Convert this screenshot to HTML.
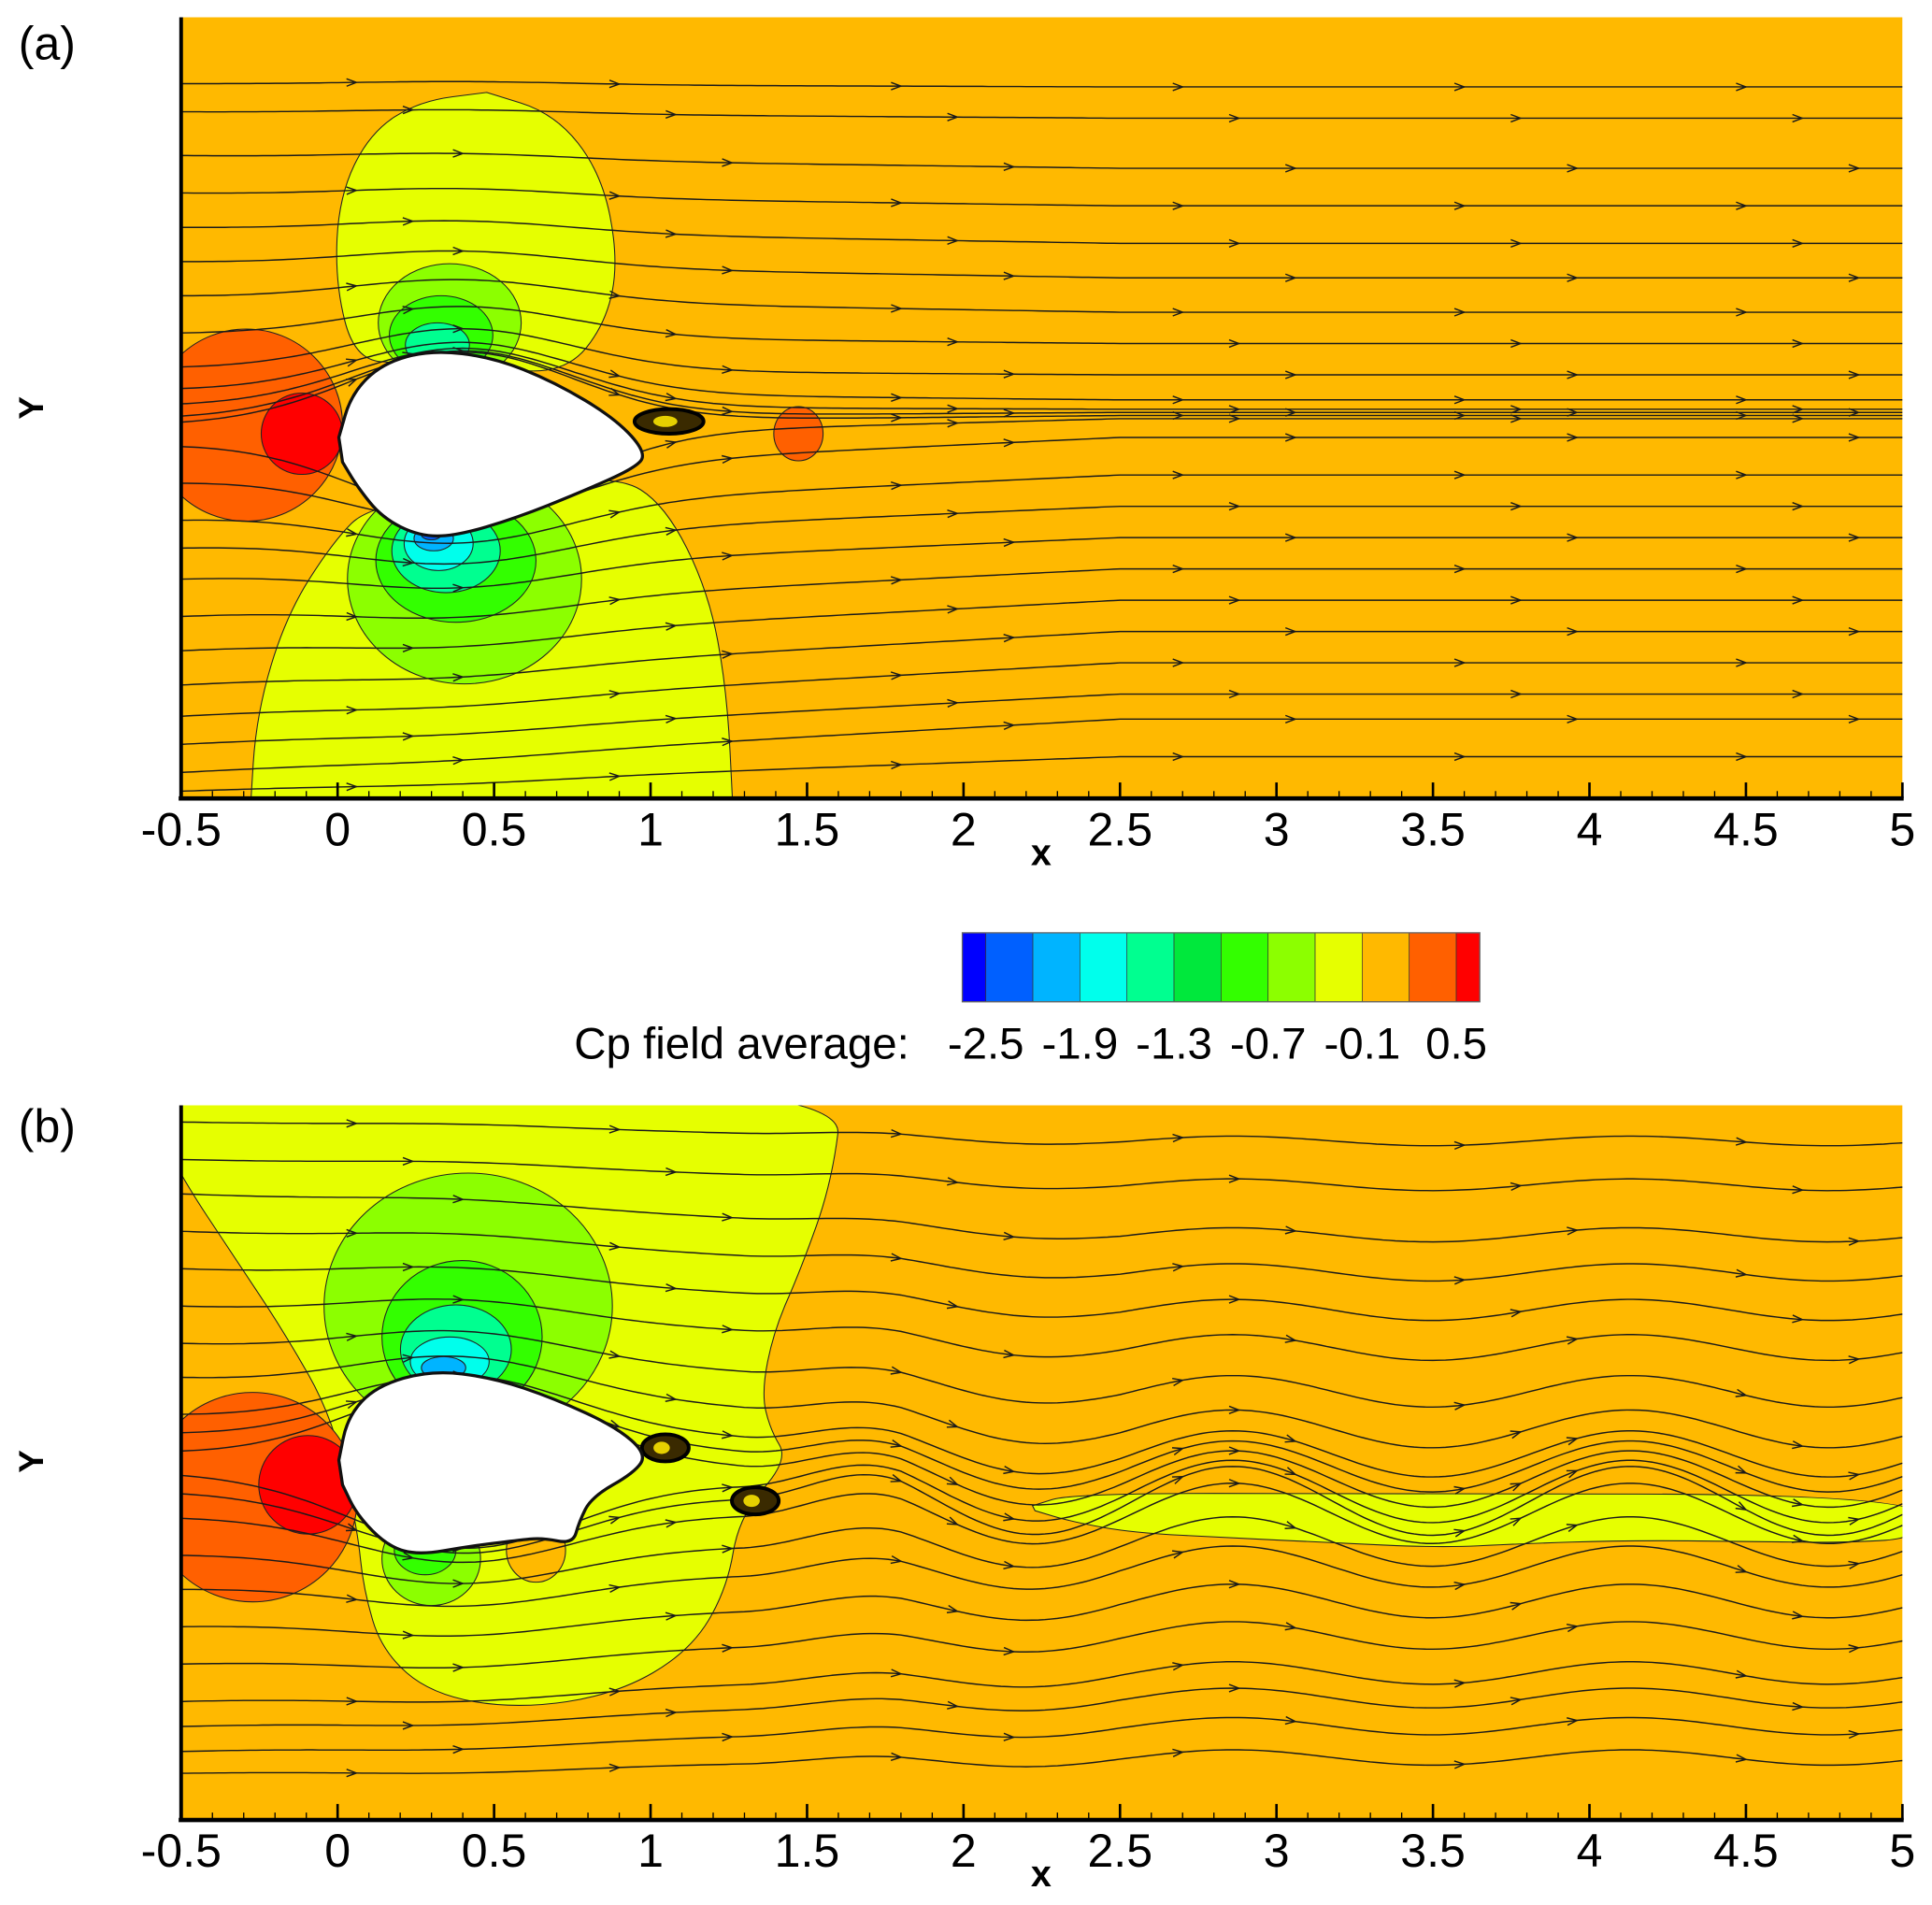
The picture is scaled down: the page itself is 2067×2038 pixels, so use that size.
<!DOCTYPE html>
<html><head><meta charset="utf-8"><style>
html,body{margin:0;padding:0;background:#fff;}
svg{display:block;}
text{font-family:"Liberation Sans",sans-serif;}
</style></head><body>
<svg id="fig" width="2067" height="2038" viewBox="0 0 1568 1546" xmlns="http://www.w3.org/2000/svg">
<defs>
<clipPath id="clipA"><rect x="147" y="14" width="1397" height="634"/></clipPath>
<clipPath id="clipB"><rect x="147" y="897" width="1397" height="580"/></clipPath>
</defs>
<g id="panelA"></g>
<g id="panelB"></g>
<g id="legend"></g>
</svg>
<script>
// ---- data ----
const xTicks = [-0.5,0,0.5,1,1.5,2,2.5,3,3.5,4,4.5,5];
const xTickLabels = ["-0.5","0","0.5","1","1.5","2","2.5","3","3.5","4","4.5","5"];
const cbColors = ["#0000ff","#0060ff","#00b4ff","#00ffec","#00ff90","#00e83c","#33ff00","#8cff00","#e6ff00","#ffb900","#ff6000","#ff0000"];
const cbLevels = [-2.8,-2.5,-2.2,-1.9,-1.6,-1.3,-1.0,-0.7,-0.4,-0.1,0.2,0.5,0.65];
const cbLabelValues = [-2.5,-1.9,-1.3,-0.7,-0.1,0.5];
const cbLabels = ["-2.5","-1.9","-1.3","-0.7","-0.1","0.5"];
// streamline start / end y (data units, relative to airfoil center)
const streamStartA = [1.13,1.04,0.90,0.78,0.67,0.56,0.45,0.33,0.22,0.15,0.10,0.06,0.04,-0.02,-0.14,-0.26,-0.35,-0.45,-0.57,-0.68,-0.79,-0.89,-0.98,-1.07,-1.13];
const streamEndA   = [1.12,1.02,0.86,0.74,0.62,0.51,0.40,0.30,0.20,0.12,0.09,0.08,0.07,0.06,0.00,-0.12,-0.22,-0.32,-0.42,-0.52,-0.62,-0.72,-0.82,-0.90,-1.02];
const streamStartB = [1.08,0.96,0.85,0.73,0.61,0.49,0.37,0.26,0.14,0.08,0.02,-0.04,-0.10,-0.18,-0.30,-0.41,-0.53,-0.65,-0.77,-0.85,-0.93,-1.00];
const streamEndB   = [1.02,0.88,0.72,0.60,0.48,0.36,0.22,0.10,0.02,-0.02,-0.06,-0.10,-0.13,-0.17,-0.26,-0.34,-0.45,-0.56,-0.68,-0.76,-0.85,-0.95];

const NS="http://www.w3.org/2000/svg";
const X0=147, UNIT=254;
function xS(x){return X0+(x+0.5)*UNIT;}
function mk(tag,attrs,parent){const e=document.createElementNS(NS,tag);for(const k in attrs)e.setAttribute(k,attrs[k]);parent.appendChild(e);return e;}
function smooth(pts){let d="M"+pts[0][0]+","+pts[0][1];for(let i=1;i<pts.length;i++){const p0=pts[i-1],p1=pts[i];const mx=(p0[0]+p1[0])/2,my=(p0[1]+p1[1])/2;d+=" Q"+p0[0]+","+p0[1]+" "+mx+","+my;}d+=" L"+pts[pts.length-1][0]+","+pts[pts.length-1][1]+" Z";return d;}

function drawPanel(g,top,bottom,yc,clip,label,isB){
  const yS=y=>yc-y*UNIT;
  const bg=mk('g',{'clip-path':'url(#'+clip+')'},g);
  let e=mk('rect',{x:147,y:top,width:1397,height:bottom-top,fill:'#ffb900'},bg);
  
  const st={stroke:'#222','stroke-width':0.8};
  function ell(cx,cy,rx,ry,c,name){const el=mk('ellipse',Object.assign({cx:cx,cy:cy,rx:rx,ry:ry,fill:c},st),bg);}
  function shp(d,c,name){const el=mk('path',Object.assign({d:d,fill:c},st),bg);}
  if(!isB){
    shp(smooth([[395,75],[450,92],[488,140],[502,210],[492,262],[460,302],[400,300],[330,295],[288,292],[272,230],[275,160],[300,108],[340,82],[395,75]]),'#e6ff00','upper-yellow-contour');
    shp(smooth([[203,660],[208,580],[232,500],[270,440],[300,410],[400,400],[500,385],[540,410],[575,480],[590,560],[595,660]]),'#e6ff00','lower-yellow-contour');
    ell(365,262,58,48,'#8cff00','upper-lightgreen-contour');
    ell(358,272,42,32,'#33ff00','upper-green-contour');
    ell(355,280,26,18,'#00ff90','upper-teal-contour');
    ell(377,470,95,85,'#8cff00','lower-lightgreen-contour');
    ell(370,455,65,50,'#33ff00','lower-green-contour');
    ell(362,447,44,34,'#00ff90','lower-teal-contour');
    ell(356,441,28,22,'#00ffec','lower-cyan-contour');
    ell(352,437,16,10,'#00b4ff','lower-lightblue-contour');
    ell(350,434,8,4,'#0060ff','lower-blue-contour');
    ell(200,345,78,78,'#ff6000','stagnation-contour');
    ell(245,352,33,33,'#ff0000','stagnation-peak-contour');
    ell(648,352,20,22,'#ff6000','wake-pressure-contour');
  } else {
    shp(smooth([[120,880],[685,880],[675,960],[650,1030],[628,1080],[618,1130],[625,1160],[640,1185],[600,1230],[590,1290],[560,1340],[500,1375],[420,1387],[350,1375],[310,1340],[295,1290],[290,1240],[270,1150],[230,1080],[190,1020],[147,955],[120,900]]),'#e6ff00','yellow-contour');
    shp(smooth([[838,1222],[870,1212],[1100,1212],[1560,1213],[1560,1248],[1500,1252],[1420,1251],[1320,1250],[1230,1253],[1170,1256],[1080,1252],[1000,1248],[920,1244],[870,1235],[840,1226]]),'#e6ff00','wake-yellow-contour');
    ell(435,1258,24,26,'#ffb900','lower-orange-contour');
    ell(380,1060,117,108,'#8cff00','upper-lightgreen-contour');
    ell(375,1085,65,62,'#33ff00','upper-green-contour');
    ell(370,1095,45,36,'#00ff90','upper-teal-contour');
    ell(365,1105,32,20,'#00ffec','upper-cyan-contour');
    ell(360,1110,18,9,'#00b4ff','upper-lightblue-contour');
    ell(350,1265,40,38,'#8cff00','lower-lightgreen-contour');
    ell(345,1258,25,20,'#33ff00','lower-green-contour');
    ell(205,1215,85,85,'#ff6000','stagnation-contour');
    ell(250,1205,40,40,'#ff0000','stagnation-peak-contour');
  }
  // streamlines
  const starts=isB?streamStartB:streamStartA, ends=isB?streamEndB:streamEndA;
  const sl=mk('g',{fill:'none',stroke:'#1a1a1a','stroke-width':1.1},bg);
  for(let i=0;i<starts.length;i++){
    const y0=starts[i],y1=ends[i];
    const pts=[];
    for(let x=-0.5;x<=5.01;x+=0.02){
      const s=Math.min(1,(x+0.5)/3);
      let y=y0+(y1-y0)*s;
      const sg=y0>=0.01?1:-1;
      y+=sg*0.25*Math.exp(-Math.pow((x-0.4)/0.5,2))*Math.exp(-Math.abs(y0)/0.35);
      if(isB&&x>1.3){
        const ramp=Math.min(1,(x-1.3)/0.5);
        y+=ramp*0.11*Math.cos(2*Math.PI*(x-2.86)/1.27)*Math.exp(-Math.abs(y0+0.1)/0.6);
      }
      pts.push([xS(x),yS(y)]);
    }
    const p=mk('path',{d:"M"+pts.map(q=>q[0].toFixed(1)+","+q[1].toFixed(1)).join(" L")},sl);
    
    
    const ax=[0.05,0.9,1.8,2.7,3.6,4.5].map(v=>v+(i%3)*0.18);
    ax.forEach(a=>{
      const k=Math.round((a+0.5)/0.02); if(k<1||k>=pts.length)return;
      const q=pts[k],r=pts[k-1];const ang=Math.atan2(q[1]-r[1],q[0]-r[0]);
      const L=8,W=3;
      const d="M"+(q[0]-L*Math.cos(ang)-W*Math.sin(ang))+","+(q[1]-L*Math.sin(ang)+W*Math.cos(ang))+" L"+q[0]+","+q[1]+" L"+(q[0]-L*Math.cos(ang)+W*Math.sin(ang))+","+(q[1]-L*Math.sin(ang)-W*Math.cos(ang));
      const ar=mk('path',{d:d},sl);
      
      
    });
  }
  // vortices
  const vx=isB?[[540,1175,19,11],[613,1218,19,11]]:[[543,342,28,10]];
  vx.forEach(v=>{const el=mk('ellipse',{cx:v[0],cy:v[1],rx:v[2],ry:v[3],fill:'#3a2a00',stroke:'#000','stroke-width':3},bg);
    const c=mk('ellipse',{cx:v[0]-3,cy:v[1],rx:v[2]*0.35,ry:v[3]*0.45,fill:'#e6d000'},bg);});
  // airfoil
  const af=isB?[[275,1185],[282,1150],[305,1125],[350,1112],[400,1118],[450,1135],[500,1158],[525,1180],[515,1195],[480,1215],[470,1235],[465,1253],[440,1248],[420,1250],[380,1255],[340,1262],[315,1255],[290,1230],[278,1205]]
    :[[275,355],[285,320],[310,295],[350,284],[400,290],[450,310],[500,340],[525,368],[515,380],[470,400],[420,420],[370,435],[340,435],[310,420],[290,395],[278,375]];
  const a=mk('path',{d:smooth(af),fill:'#fff',stroke:'#111','stroke-width':2.5},bg);
  
  // axes
  const ax=mk('g',{},g);
  let l=mk('line',{x1:147,y1:top,x2:147,y2:bottom,stroke:'#000','stroke-width':3},ax);
  
  l=mk('line',{x1:145,y1:bottom,x2:1545,y2:bottom,stroke:'#000','stroke-width':3.5},ax);
  
  for(let v=-0.5;v<=5.0001;v+=0.1){
    const t=mk('line',{x1:xS(v),y1:bottom,x2:xS(v),y2:bottom-6,stroke:'#000','stroke-width':1},ax);
    
  }
  xTicks.forEach((v,i)=>{
    const t=mk('line',{x1:xS(v),y1:bottom,x2:xS(v),y2:bottom-13,stroke:'#000','stroke-width':2},ax);
    
    const tx=mk('text',{x:xS(v),y:bottom+38,'font-size':38,'text-anchor':'middle'},ax);
    tx.textContent=xTickLabels[i];
    
  });
  let t=mk('text',{x:845,y:bottom+54,'font-size':30,'font-weight':'bold','text-anchor':'middle'},ax);t.textContent='x';
  
  t=mk('text',{x:0,y:0,'font-size':28,'font-weight':'bold','text-anchor':'middle',transform:'translate(35,'+(isB?1186:331)+') rotate(-90)'},ax);t.textContent='Y';
  
  t=mk('text',{x:15,y:isB?927:48,'font-size':38},ax);t.textContent=label;
  
}
drawPanel(document.getElementById('panelA'),14,648,355,'clipA','(a)',false);
drawPanel(document.getElementById('panelB'),897,1477,1185,'clipB','(b)',true);

// colorbar
const lg=document.getElementById('legend');
const cx0=781,cx1=1201,cy0=757,cy1=813;
const cScale=v=>{const lo=-2.65, hi=0.65; return cx0+(v-lo)/(hi-lo)*(cx1-cx0);};
cbColors.forEach((c,i)=>{
  const a=Math.max(cbLevels[i],-2.65),b=Math.min(cbLevels[i+1],0.65);
  const r=mk('rect',{x:cScale(a),y:cy0,width:cScale(b)-cScale(a),height:cy1-cy0,fill:c,stroke:'#333','stroke-width':0.5},lg);
  
});
let fr=mk('rect',{x:cx0,y:cy0,width:cx1-cx0,height:cy1-cy0,fill:'none',stroke:'#666','stroke-width':1},lg);

cbLabelValues.forEach((v,i)=>{
  const t=mk('text',{x:cScale(v),y:859,'font-size':36,'text-anchor':'middle'},lg);
  t.textContent=cbLabels[i];
  
});
let tt=mk('text',{x:738,y:859,'font-size':36,'text-anchor':'end'},lg);tt.textContent='Cp field average:';

</script>
</body></html>
